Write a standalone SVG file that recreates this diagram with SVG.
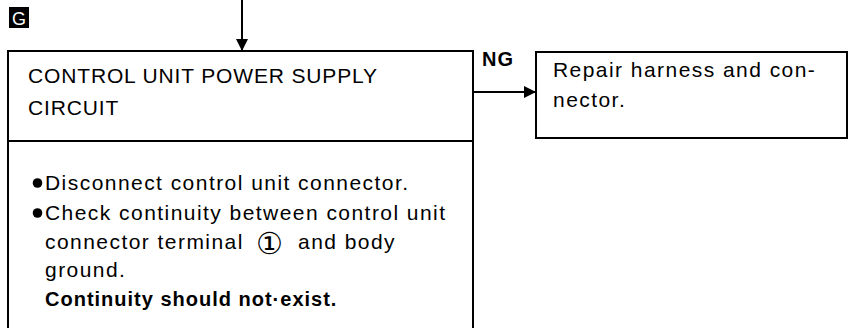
<svg xmlns="http://www.w3.org/2000/svg" width="850" height="328" viewBox="0 0 850 328">
<defs>
<marker id="ah" viewBox="0 0 12 12" refX="12" refY="6" markerWidth="12" markerHeight="12" markerUnits="userSpaceOnUse" orient="auto">
<path d="M0,0 L12,6 L0,12 Z" fill="#000"/>
</marker>
<style>
.box{fill:#fff;stroke:#000;stroke-width:2}
.ln{stroke:#000;stroke-width:2;fill:none}
.t{font-family:"Liberation Sans",Arial,sans-serif;font-size:21px;letter-spacing:1.45px;fill:#000}
.cap{letter-spacing:0.85px}
.b{font-weight:bold;font-size:20px;letter-spacing:1px}
.c1{font-family:"DejaVu Sans",sans-serif;font-size:30px;letter-spacing:0}
</style>
</defs>
<rect width="850" height="328" fill="#fff"/>
<g id="label-G">
<rect x="9" y="7" width="20" height="21" fill="#000"/>
<text x="19" y="24.5" text-anchor="middle" font-family="Liberation Sans,Arial,sans-serif" font-size="18" fill="#fff">G</text>
</g>
<g id="connectors">
<line class="ln" x1="242" y1="0" x2="242" y2="51" marker-end="url(#ah)"/>
<line class="ln" x1="474" y1="92" x2="536" y2="92" marker-end="url(#ah)"/>
<text class="t b" x="482" y="66">NG</text>
</g>
<g id="node-check">
<rect class="box" x="8" y="51" width="465" height="290"/>
<line class="ln" x1="8" y1="141" x2="473" y2="141"/>
<text class="t cap" x="28" y="83">CONTROL UNIT POWER SUPPLY</text>
<text class="t cap" x="28" y="115">CIRCUIT</text>
<circle cx="37.5" cy="183" r="4.8" fill="#000"/>
<text class="t" x="45" y="190">Disconnect control unit connector.</text>
<circle cx="37.5" cy="213" r="4.8" fill="#000"/>
<text class="t" x="45" y="220">Check continuity between control unit</text>
<text class="t" x="45" y="249">connector terminal <tspan class="c1" x="256" dy="5">①</tspan><tspan x="298" dy="-5">and body</tspan></text>
<text class="t" x="45" y="277">ground.</text>
<text class="t b" x="45" y="306">Continuity should not·exist.</text>
</g>
<g id="node-repair">
<rect class="box" x="536" y="52" width="311" height="86"/>
<text class="t" x="553" y="77">Repair harness and con-</text>
<text class="t" x="553" y="107">nector.</text>
</g>
</svg>
